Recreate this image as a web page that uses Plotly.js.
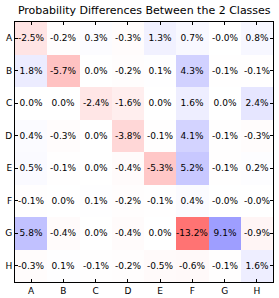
<!DOCTYPE html>
<html>
<head>
<meta charset="utf-8">
<script src="https://cdn.plot.ly/plotly-3.0.1.min.js"></script>
<style>html,body{margin:0;padding:0;background:#fff;}#chart{width:279px;height:298px;}</style>
</head>
<body>
<div id="chart"></div>
<script>
const classes = ['A','B','C','D','E','F','G','H'];
const rowA = [-2.5, -0.2, 0.3, -0.3, 1.3, 0.7, -0.02, 0.8];
const rowB = [1.8, -5.7, 0.0, -0.2, 0.1, 4.3, -0.1, -0.1];
const rowC = [0.0, 0.0, -2.4, -1.6, 0.0, 1.6, 0.0, 2.4];
const rowD = [0.4, -0.3, 0.0, -3.8, -0.1, 4.1, -0.1, -0.3];
const rowE = [0.5, -0.1, 0.0, -0.4, -5.3, 5.2, -0.1, 0.2];
const rowF = [-0.1, 0.0, 0.1, -0.2, -0.1, 0.4, -0.02, -0.02];
const rowG = [5.8, -0.4, 0.0, -0.4, 0.0, -13.2, 9.1, -0.9];
const rowH = [-0.3, 0.1, -0.1, -0.2, -0.5, -0.6, -0.1, 1.6];
const z = [rowA, rowB, rowC, rowD, rowE, rowF, rowG, rowH];
const text = z.map(r => r.map(v => v.toFixed(1) + '%'));

const trace = {
  type: 'heatmap',
  x: classes, y: classes, z: z,
  text: text, texttemplate: '%{text}',
  textfont: {family: 'DejaVu Sans', size: 9, color: '#000'},
  colorscale: [[0, 'rgb(255,0,0)'], [0.5, 'rgb(255,255,255)'], [1, 'rgb(0,0,255)']],
  zmin: -24, zmax: 24, showscale: false, hoverinfo: 'skip', xgap: 0, ygap: 0
};
const axisCommon = {
  type: 'category', showgrid: false, zeroline: false, showline: true, linecolor: '#000', linewidth: 1,
  mirror: 'ticks', ticks: 'inside', ticklen: 3, tickwidth: 1, tickcolor: '#000',
  tickfont: {family: 'DejaVu Sans', size: 9, color: '#000'}
};
const layout = {
  width: 279, height: 298,
  margin: {l: 15, r: 6, t: 22, b: 16, pad: 0},
  paper_bgcolor: '#fff', plot_bgcolor: '#fff',
  title: {text: 'Probability Differences Between the 2 Classes', font: {family: 'DejaVu Sans', size: 11, color: '#000'}, x: 0.517, xanchor: 'center', y: 0.966, yanchor: 'middle'},
  xaxis: Object.assign({}, axisCommon),
  yaxis: Object.assign({}, axisCommon, {autorange: 'reversed'})
};
Plotly.newPlot('chart', [trace], layout, {displayModeBar: false, staticPlot: true});
</script>
</body>
</html>
